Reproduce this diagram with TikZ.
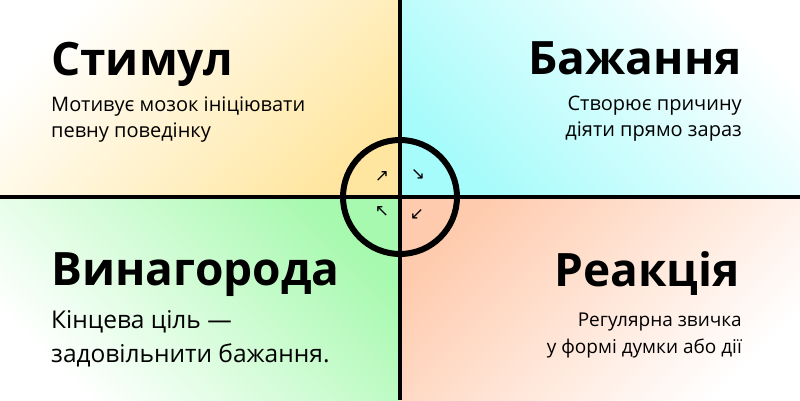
\documentclass[tikz,border=0pt]{standalone}
\usepackage{fontspec}
\setmainfont{Open Sans}
\newfontfamily\arrowfont{DejaVu Sans}
\definecolor{stimcol}{HTML}{FFE6A0}
\definecolor{wantcol}{HTML}{A6FBFB}
\definecolor{rewardcol}{HTML}{A6F9AE}
\definecolor{reactcol}{HTML}{FFCBAE}
\tikzset{
  title/.style={inner sep=0pt, font=\fontsize{46}{54}\selectfont\bfseries},
  desc/.style={inner sep=0pt, font=\fontsize{20}{26}\selectfont},
  turn/.style={inner sep=0pt, font=\arrowfont\fontsize{17}{17}\selectfont},
}

\begin{document}
\begin{tikzpicture}[x=1pt,y=1pt]
  \useasboundingbox (0,0) rectangle (800,400);
  % quadrants
  \shade[top color=white, bottom color=stimcol, shading angle=45] (0,203) rectangle (400,400);
  \shade[top color=white, bottom color=wantcol, shading angle=-45] (400,203) rectangle (800,400);
  \shade[top color=rewardcol, bottom color=white, shading angle=-45] (0,0) rectangle (400,203);
  \shade[top color=reactcol, bottom color=white, shading angle=45] (400,0) rectangle (800,203);

  \coordinate (top) at (400,400);
  \coordinate (bottom) at (400,0);
  \coordinate (left) at (0,203);
  \coordinate (right) at (800,203);
  \draw[line width=4pt] (top) -- (bottom);
  \draw[line width=4pt] (left) -- (right);
  \node[draw, circle, line width=6pt, minimum size=114pt, inner sep=0pt] (hub) at (400,203) {};

  \node[turn] (turnne) at (382,223) {↗};
  \node[turn] (turnse) at (418,225) {↘};
  \node[turn] (turnsw) at (417,185) {↙};
  \node[turn] (turnnw) at (382,188) {↖};

  \node[title, anchor=base west] (stimulus) at (51,325) {Стимул};
  \node[desc, anchor=base west, align=left] (stimulustext) at (51,263) {Мотивує мозок ініціювати\\певну поведінку};

  \node[title, anchor=base east] (craving) at (742,326) {Бажання};
  \node[desc, anchor=base east, align=right] (cravingtext) at (742,264) {Створює причину\\діяти прямо зараз};

  \node[title, anchor=base west] (reward) at (51,115) {Винагорода};
  \node[desc, anchor=base west, align=left, font=\fontsize{24.5}{34}\selectfont] (rewardtext) at (51,38) {Кінцева ціль —\\задовільнити бажання.};

  \node[title, anchor=base east] (response) at (740,114) {Реакція};
  \node[desc, anchor=base east, align=right, font=\fontsize{19}{27}\selectfont] (responsetext) at (742,47) {Регулярна звичка\\у формі думки або дії};
\end{tikzpicture}
\end{document}
